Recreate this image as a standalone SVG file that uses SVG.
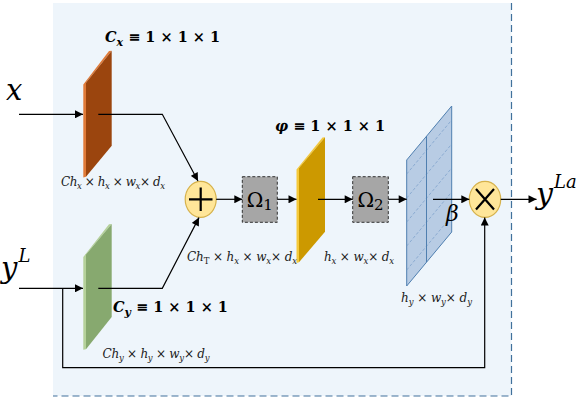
<svg xmlns="http://www.w3.org/2000/svg" width="580" height="400" viewBox="0 0 580 400">
<defs>
<marker id="ah" viewBox="0 0 10 10" refX="10" refY="5" markerWidth="9" markerHeight="8" markerUnits="userSpaceOnUse" orient="auto"><path d="M0,0 L10,5 L0,10 z" fill="#000"/></marker>
<clipPath id="bp"><polygon points="406.7,160 451.7,106 451.7,232 406.7,286"/></clipPath>
</defs>
<style>
.m{font-family:"DejaVu Serif","Liberation Serif",serif;font-style:italic;fill:#000}
.u{font-style:normal}
.b{font-weight:bold}
.lbl{font-size:12px;fill:#1a1a1a}
.c{fill:none;stroke:#000;stroke-width:1.2}
.om{font-family:"DejaVu Serif","Liberation Serif",serif;font-size:20px;fill:#000}
.box{fill:#A6A6A6;stroke:#333;stroke-width:1;stroke-dasharray:3,2}
.op{fill:#FFE699;stroke:#D6B24C;stroke-width:1.2}
.sym{stroke:#000;stroke-width:2.2;fill:none}
</style>
<g id="frame">
<rect x="53" y="3" width="458.5" height="393" fill="#EEF5FB"/>
<path d="M511.5,3 V396 H53" fill="none" stroke="#41719C" stroke-width="1.2" stroke-dasharray="7,4"/>
</g>
<g id="panel-cx">
<polygon points="83.3,84.5 109,51 111.7,50.7 86,82.7 86,176.7 83.3,177.5" fill="#E07B39"/>
<polygon points="86,82.7 111.7,50.7 111.7,145.7 86,176.7" fill="#9B450E"/>
</g>
<g id="panel-cy">
<polygon points="83.3,257 109,224.3 111.7,224 86,254.5 86,349.3 83.3,349.8" fill="#B5D19A"/>
<polygon points="86,254.5 111.7,224 111.7,317 86,349.3" fill="#87A96F"/>
</g>
<g id="panel-phi">
<polygon points="296.5,169.5 322.5,137.6 325,137.3 299,168 299,262.3 296.5,263" fill="#F5C93A"/>
<polygon points="299,168 325,137.3 325,231.7 299,262.3" fill="#CC9900"/>
</g>
<g id="panel-beta">
<polygon points="406.7,160 451.7,106 451.7,232 406.7,286" fill="#B8CCE4" stroke="#4F7FB0" stroke-width="1"/>
<g clip-path="url(#bp)" stroke="#7FA2CC" stroke-width="0.8" stroke-dasharray="3,2">
<line x1="406.7" y1="174" x2="451.7" y2="120"/>
<line x1="406.7" y1="198" x2="451.7" y2="144"/>
<line x1="406.7" y1="222" x2="451.7" y2="168"/>
<line x1="406.7" y1="246" x2="451.7" y2="192"/>
<line x1="406.7" y1="270" x2="451.7" y2="216"/>
</g>
<line x1="426.5" y1="136" x2="426.5" y2="262" stroke="#4F7FB0" stroke-width="1"/>
</g>
<g id="plus">
<ellipse class="op" cx="200.7" cy="199.3" rx="15.5" ry="18"/>
<path class="sym" d="M189,199.3 H212.5 M200.7,187.5 V211"/>
</g>
<g id="times">
<ellipse class="op" cx="485" cy="199.3" rx="15.7" ry="18"/>
<path class="sym" d="M476,189 L494,209.5 M494,189 L476,209.5"/>
</g>
<g id="omega1">
<rect class="box" x="242.3" y="176.7" width="35" height="45.6"/>
<text class="om" x="259.8" y="207" text-anchor="middle">Ω<tspan font-size="15" dy="3">1</tspan></text>
</g>
<g id="omega2">
<rect class="box" x="352.7" y="176.7" width="35.6" height="45.6"/>
<text class="om" x="370.5" y="207" text-anchor="middle">Ω<tspan font-size="15" dy="3">2</tspan></text>
</g>
<g id="connectors">
<path class="c" d="M19,114.3 H83" marker-end="url(#ah)"/>
<path class="c" d="M98.3,114.3 H162.3 L198,181" marker-end="url(#ah)"/>
<path class="c" d="M19,288.3 H83" marker-end="url(#ah)"/>
<path class="c" d="M98.3,288.3 H162.3 L199,217.6" marker-end="url(#ah)"/>
<path class="c" d="M62.7,288.3 V367.7 H484.7 V217.6" stroke-width="2" marker-end="url(#ah)"/>
<path class="c" d="M216.2,199.3 H242.3" marker-end="url(#ah)"/>
<path class="c" d="M277.3,199.3 H296.5" marker-end="url(#ah)"/>
<path class="c" d="M318,199.3 H352.7" marker-end="url(#ah)"/>
<path class="c" d="M388.3,199.3 H406.7" marker-end="url(#ah)"/>
<path class="c" d="M433,199.3 H469.3" marker-end="url(#ah)"/>
<path class="c" d="M500.7,199.3 H536.5" marker-end="url(#ah)"/>
</g>
<g id="labels">
<text class="m" x="6" y="100" font-size="29">x</text>
<text class="m" x="1" y="278" font-size="29">y<tspan font-size="18" dx="1" dy="-16">L</tspan></text>
<text class="m" x="536" y="204" font-size="30">y<tspan font-size="18" dx="1" dy="-16">La</tspan></text>
<text class="m" x="446" y="221" font-size="22">β</text>
<text class="m b" x="105" y="42" font-size="14.5">C<tspan font-size="11" dy="4">x</tspan><tspan class="u" dy="-4"> ≡ 1 × 1 × 1</tspan></text>
<text class="m b" x="113" y="311.7" font-size="14.5">C<tspan font-size="11" dy="4">y</tspan><tspan class="u" dy="-4"> ≡ 1 × 1 × 1</tspan></text>
<text class="m b" x="275" y="130.7" font-size="14.5">φ<tspan class="u"> ≡ 1 × 1 × 1</tspan></text>
<text class="m lbl" x="61" y="186" textLength="104" lengthAdjust="spacing">Ch<tspan font-size="8.5" dy="2.5">x</tspan><tspan class="u" dy="-2.5"> × </tspan>h<tspan font-size="8.5" dy="2.5">x</tspan><tspan class="u" dy="-2.5"> × </tspan>w<tspan font-size="8.5" dy="2.5">x</tspan><tspan class="u" dy="-2.5">× </tspan>d<tspan font-size="8.5" dy="2.5">x</tspan></text>
<text class="m lbl" x="187" y="261" textLength="110" lengthAdjust="spacing">Ch<tspan class="u" font-size="8.5" dy="2.5">T</tspan><tspan class="u" dy="-2.5"> × </tspan>h<tspan font-size="8.5" dy="2.5">x</tspan><tspan class="u" dy="-2.5"> × </tspan>w<tspan font-size="8.5" dy="2.5">x</tspan><tspan class="u" dy="-2.5">× </tspan>d<tspan font-size="8.5" dy="2.5">x</tspan></text>
<text class="m lbl" x="324" y="261" textLength="70" lengthAdjust="spacing">h<tspan font-size="8.5" dy="2.5">x</tspan><tspan class="u" dy="-2.5"> × </tspan>w<tspan font-size="8.5" dy="2.5">x</tspan><tspan class="u" dy="-2.5">× </tspan>d<tspan font-size="8.5" dy="2.5">x</tspan></text>
<text class="m lbl" x="401" y="302" textLength="71" lengthAdjust="spacing">h<tspan font-size="8.5" dy="2.5">y</tspan><tspan class="u" dy="-2.5"> × </tspan>w<tspan font-size="8.5" dy="2.5">y</tspan><tspan class="u" dy="-2.5">× </tspan>d<tspan font-size="8.5" dy="2.5">y</tspan></text>
<text class="m lbl" x="102.5" y="358" textLength="107" lengthAdjust="spacing">Ch<tspan font-size="8.5" dy="2.5">y</tspan><tspan class="u" dy="-2.5"> × </tspan>h<tspan font-size="8.5" dy="2.5">y</tspan><tspan class="u" dy="-2.5"> × </tspan>w<tspan font-size="8.5" dy="2.5">y</tspan><tspan class="u" dy="-2.5">× </tspan>d<tspan font-size="8.5" dy="2.5">y</tspan></text>
</g>
</svg>
